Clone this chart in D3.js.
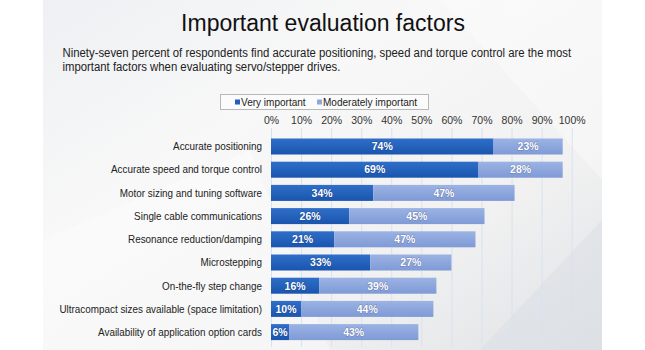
<!DOCTYPE html>
<html lang="en">
<head>
<meta charset="UTF-8">
<title>Important evaluation factors</title>
<script src="https://d3js.org/d3.v7.min.js"></script>
<style>
  body { margin: 0; background: #fff; font-family: "Liberation Sans", Arial, sans-serif; }
  svg { display: block; }
</style>
</head>
<body>
<div id="chart"></div>
<script>
const categories = [
  "Accurate positioning",
  "Accurate speed and torque control",
  "Motor sizing and tuning software",
  "Single cable communications",
  "Resonance reduction/damping",
  "Microstepping",
  "On-the-fly step change",
  "Ultracompact sizes available (space limitation)",
  "Availability of application option cards"
];
const veryImportant = [74, 69, 34, 26, 21, 33, 16, 10, 6];
const moderatelyImportant = [23, 28, 47, 45, 47, 27, 39, 44, 43];
const seriesNames = ["Very important", "Moderately important"];
const tickValues = [0, 10, 20, 30, 40, 50, 60, 70, 80, 90, 100];

const width = 645, height = 350;
const svg = d3.select("#chart").append("svg")
  .attr("width", width).attr("height", height);

const defs = svg.append("defs");
const bg = defs.append("linearGradient").attr("id", "bg")
  .attr("x1", 0).attr("y1", 0).attr("x2", 1).attr("y2", 1);
bg.append("stop").attr("offset", 0).attr("stop-color", "#eef0f3");
bg.append("stop").attr("offset", 0.35).attr("stop-color", "#f8f8f8");
bg.append("stop").attr("offset", 0.7).attr("stop-color", "#f1f1f1");
bg.append("stop").attr("offset", 1).attr("stop-color", "#dfe2e6");
const gDark = defs.append("linearGradient").attr("id", "dark")
  .attr("x1", 0).attr("y1", 0).attr("x2", 0).attr("y2", 1);
gDark.append("stop").attr("offset", 0).attr("stop-color", "#2f6fc9");
gDark.append("stop").attr("offset", 1).attr("stop-color", "#1a55ae");
const gLight = defs.append("linearGradient").attr("id", "light")
  .attr("x1", 0).attr("y1", 0).attr("x2", 0).attr("y2", 1);
gLight.append("stop").attr("offset", 0).attr("stop-color", "#9bb3e4");
gLight.append("stop").attr("offset", 1).attr("stop-color", "#7f9ad6");

// slide background
svg.append("rect").attr("x", 43).attr("y", 0).attr("width", 559).attr("height", height)
  .attr("fill", "url(#bg)");
const pr = svg.append("g").attr("fill", "#ffffff").attr("opacity", 0.35);
pr.append("polygon").attr("points", "43,240 250,150 330,350 43,350");
pr.append("polygon").attr("points", "440,0 602,0 602,180");
svg.append("polygon").attr("points", "480,350 602,220 602,350")
  .attr("fill", "#d9dde3").attr("opacity", 0.5);

svg.append("text").attr("x", 323).attr("y", 31).attr("text-anchor", "middle")
  .attr("font-size", 23).attr("fill", "#111").text("Important evaluation factors");

// subtitle, slightly condensed like the source font
const sub = svg.append("text").attr("transform", "translate(62.5,0) scale(0.922,1)")
  .attr("font-size", 12.3).attr("fill", "#222");
sub.append("tspan").attr("x", 0).attr("y", 57)
  .text("Ninety-seven percent of respondents find accurate positioning, speed and torque control are the most");
sub.append("tspan").attr("x", 0).attr("y", 71)
  .text("important factors when evaluating servo/stepper drives.");

const x = d3.scaleLinear().domain([0, 100]).range([271, 571.7]);
const y = d3.scaleBand().domain(categories).range([131.3, 347.3]).padding(0.31);

// legend
const lg = svg.append("g");
lg.append("rect").attr("x", 220.5).attr("y", 94.5).attr("width", 208).attr("height", 15)
  .attr("fill", "#fbfbfb").attr("stroke", "#b8b8b8");
const lItems = [[235, "#1f5fbd"], [317, "#8ea7de"]];
seriesNames.forEach((n, i) => {
  lg.append("rect").attr("x", lItems[i][0]).attr("y", 99.5).attr("width", 5).attr("height", 5)
    .attr("fill", lItems[i][1]);
  lg.append("text").attr("transform", `translate(${lItems[i][0] + 6},105.5) scale(0.93,1)`)
    .attr("font-size", 10.8).attr("fill", "#222").text(n);
});

// axis + grid
const ax = svg.append("g").attr("transform", "translate(0,124)")
  .call(d3.axisTop(x).tickValues(tickValues).tickFormat(d => d + "%").tickSize(0).tickPadding(0));
ax.select(".domain").remove();
ax.selectAll("text").attr("font-size", 10.5).attr("fill", "#333")
  .attr("font-family", "Liberation Sans, Arial, sans-serif");

svg.append("g").selectAll("line").data(tickValues).join("line")
  .attr("x1", d => x(d) + 0.5).attr("x2", d => x(d) + 0.5)
  .attr("y1", 128).attr("y2", 347)
  .attr("stroke", "#d8e2ef").attr("stroke-width", 1);

// category labels
svg.append("g").selectAll("text").data(categories).join("text")
  .attr("transform", d => `translate(262,${y(d) + y.bandwidth() / 2 + 3.8}) scale(0.915,1)`)
  .attr("text-anchor", "end").attr("font-size", 10.8).attr("fill", "#222")
  .text(d => d);

const rows = categories.map((c, i) => ({ c, v: veryImportant[i], m: moderatelyImportant[i] }));
const bars = svg.append("g").selectAll("g").data(rows).join("g");
bars.append("rect").attr("x", x(0)).attr("y", d => y(d.c))
  .attr("width", d => x(d.v) - x(0)).attr("height", y.bandwidth())
  .attr("fill", "url(#dark)");
bars.append("rect").attr("x", d => x(d.v)).attr("y", d => y(d.c))
  .attr("width", d => x(d.v + d.m) - x(d.v)).attr("height", y.bandwidth())
  .attr("fill", "url(#light)");

const lblStyle = s => s.attr("font-size", 10.5).attr("font-weight", "bold").attr("fill", "#fff")
  .attr("text-anchor", "middle").attr("y", d => y(d.c) + y.bandwidth() / 2 + 3.8)
  .style("paint-order", "stroke").attr("stroke", "rgba(0,0,40,0.25)").attr("stroke-width", 1);
bars.append("text").call(lblStyle)
  .attr("x", d => Math.max((x(0) + x(d.v)) / 2, x(0) + 9))
  .text(d => d.v + "%");
bars.append("text").call(lblStyle)
  .attr("x", d => (x(d.v) + x(d.v + d.m)) / 2)
  .text(d => d.m + "%");
</script>
</body>
</html>
